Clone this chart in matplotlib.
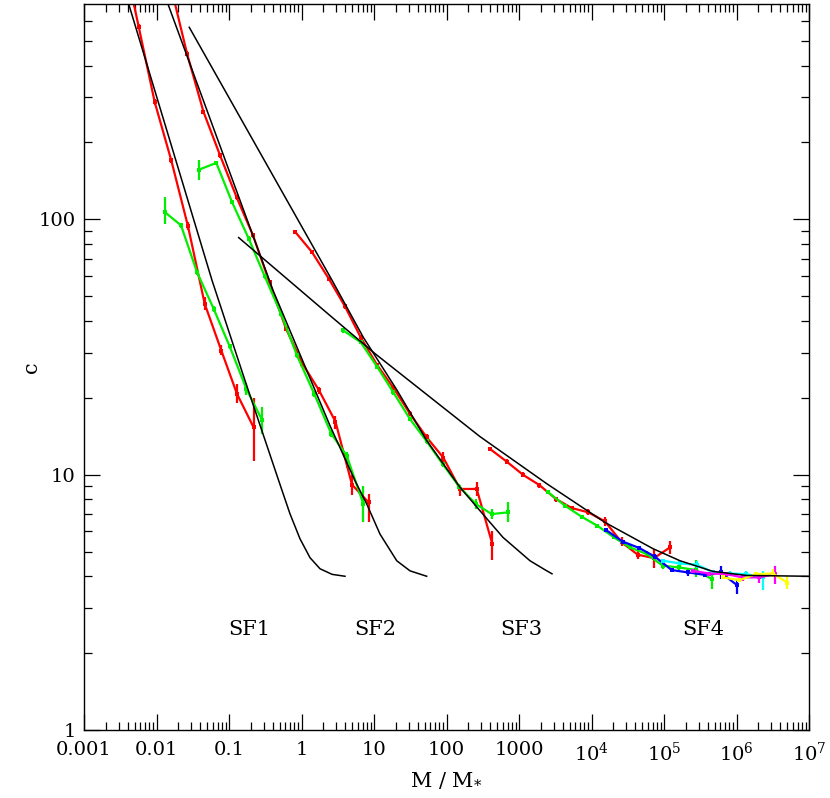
import matplotlib
matplotlib.use("Agg")
import matplotlib.pyplot as plt
from matplotlib.ticker import FixedLocator, FixedFormatter, LogLocator, NullFormatter
import numpy as np

plt.rcParams['font.family'] = ['DejaVu Serif']
plt.rcParams['mathtext.fontset'] = 'dejavuserif'

# ---------------- model curves (black) ----------------
sf1_M = [0.00355, 0.0583, 0.166, 0.485, 0.693, 0.953, 1.31, 1.80, 2.64, 3.98]
sf1_c = [805, 57.7, 23.4, 9.47, 7.03, 5.61, 4.73, 4.28, 4.07, 4.0]

sf2_M = [0.0120, 0.405, 2.47, 5.47, 7.93, 12.1, 20.6, 31.4, 53.3]
sf2_c = [802, 52.7, 15.56, 9.47, 7.68, 5.85, 4.60, 4.20, 4.0]

sf3_M = [0.0283, 2.64, 7.12, 20.6, 53.3, 153.5, 290, 601, 1419, 2286, 2851]
sf3_c = [565, 57.7, 34.5, 21.5, 13.6, 8.92, 7.22, 5.68, 4.60, 4.24, 4.09]

sf4_M = [0.136, 2.47, 10.3, 290, 2410, 15350, 70500, 166300, 474000, 1.38e6, 1e7]
sf4_c = [84.8, 42.0, 29.8, 14.09, 9.22, 6.50, 5.13, 4.60, 4.18, 4.03, 4.0]

# ---------------- simulation data ----------------
red1_M = [0.00337, 0.00568, 0.00944, 0.0160, 0.0272, 0.0462, 0.0784, 0.129, 0.219]
red1_c = [1130, 568, 288, 170, 93.9, 46.7, 30.6, 20.7, 15.3]
red1_lo = [1100, 555, 281, 166, 90.6, 44.0, 29.3, 19.0, 11.35]
red1_hi = [1160, 581, 295, 174, 97.6, 49.6, 32.1, 22.7, 20.0]

green1_M = [0.01297, 0.02179, 0.0362, 0.0615, 0.1022, 0.1733, 0.2877]
green1_c = [106.8, 94.7, 62.1, 44.6, 31.8, 21.7, 16.3]
green1_lo = [95.5, 92.5, 60.6, 43.5, 31.0, 20.5, 14.4]
green1_hi = [122.3, 96.9, 63.6, 45.7, 32.6, 22.9, 18.4]

red2_M = [0.0156, 0.02635, 0.04446, 0.0752, 0.1269, 0.2143, 0.362, 0.611, 1.032, 1.742, 2.94, 4.97, 8.40]
red2_c = [827, 446, 263.6, 178.2, 122.3, 86.5, 56.6, 37.3, 27.2, 21.4, 16.14, 9.14, 7.79]
red2_lo = [810, 436, 258, 174, 119.5, 84.5, 55.3, 36.4, 26.5, 20.7, 15.15, 8.35, 6.50]
red2_hi = [845, 456, 269, 182, 125, 88.5, 57.9, 38.2, 27.9, 22.1, 17.03, 10.0, 8.40]

green2_M = [0.0389, 0.0668, 0.110, 0.187, 0.311, 0.521, 0.867, 1.502, 2.58, 4.20, 7.12]
green2_c = [156.7, 166.3, 116.9, 84.0, 59.8, 42.7, 29.3, 20.7, 14.44, 11.87, 7.68]
green2_lo = [142.2, 163, 114.5, 82.3, 58.6, 41.8, 28.7, 20.1, 14.0, 10.65, 6.50]
green2_hi = [170.4, 169.6, 119.3, 85.7, 61.0, 43.6, 29.9, 21.3, 14.9, 12.3, 9.05]

red3_M = [0.821, 1.396, 2.373, 3.98, 6.56, 11.1, 18.5, 31.4, 53.3, 90.4, 153.5, 261, 428.6]
red3_c = [89.2, 74.4, 58.6, 45.6, 34.5, 26.8, 21.9, 17.3, 14.0, 11.66, 8.79, 8.79, 5.35]
red3_lo = [87.5, 73.0, 57.5, 44.7, 33.8, 26.2, 21.4, 16.9, 13.6, 10.95, 8.27, 8.27, 4.64]
red3_hi = [90.9, 75.8, 59.7, 46.5, 35.2, 27.4, 22.4, 17.7, 14.4, 12.3, 9.05, 9.33, 6.03]

green3_M = [3.77, 6.56, 11.1, 18.5, 31.4, 53.3, 88.6, 150.2, 252.7, 420, 712]
green3_c = [36.7, 33.0, 26.4, 21.0, 16.5, 13.5, 11.0, 8.97, 7.68, 7.01, 7.12]
green3_lo = [36.0, 32.4, 25.9, 20.6, 16.2, 13.2, 10.75, 8.75, 7.36, 6.72, 6.50]
green3_hi = [37.4, 33.6, 26.9, 21.4, 16.8, 13.8, 11.25, 9.2, 8.05, 7.36, 7.79]

red4_M = [398, 676, 1146, 1905, 3236, 5333, 9036, 15350, 26100, 43360, 72800, 121000]
red4_c = [12.61, 11.25, 9.97, 9.11, 8.03, 7.40, 7.12, 6.56, 5.43, 4.86, 4.71, 5.19]
red4_lo = [12.35, 11.0, 9.75, 8.9, 7.85, 7.25, 6.93, 6.31, 5.27, 4.67, 4.31, 4.91]
red4_hi = [12.85, 11.5, 10.2, 9.3, 8.2, 7.55, 7.36, 6.84, 5.68, 5.11, 5.11, 5.51]

green4_M = [2535, 4310, 7328, 12030, 20420, 33960, 57700, 95940, 162600, 276300, 454900]
green4_c = [8.52, 7.56, 6.84, 6.31, 5.68, 5.19, 4.89, 4.40, 4.33, 4.23, 3.90]
green4_lo = [8.4, 7.45, 6.74, 6.2, 5.58, 5.1, 4.75, 4.27, 4.20, 3.96, 3.56]
green4_hi = [8.64, 7.67, 6.94, 6.42, 5.78, 5.28, 5.03, 4.53, 4.48, 4.64, 4.14]

blue4_M = [15850, 26920, 45620, 75160, 127700, 216300, 367700, 605400, 1.007e6]
blue4_c = [6.07, 5.47, 5.16, 4.77, 4.23, 4.14, 4.05, 4.14, 3.70]
blue4_lo = [5.98, 5.38, 5.06, 4.65, 4.15, 4.02, 3.96, 3.90, 3.41]
blue4_hi = [6.16, 5.56, 5.26, 4.89, 4.31, 4.27, 4.14, 4.40, 3.90]

cyan4_M = [97770, 166300, 282600, 478600, 812800, 1.352e6, 2.297e6]
cyan4_c = [4.60, 4.49, 4.44, 4.14, 4.10, 4.08, 3.96]
cyan4_lo = [4.53, 4.42, 4.28, 4.06, 4.02, 3.96, 3.53]
cyan4_hi = [4.67, 4.56, 4.60, 4.22, 4.20, 4.20, 4.20]

magenta4_M = [248900, 421700, 716100, 1.219e6, 2.065e6, 3.398e6]
magenta4_c = [4.20, 4.10, 4.08, 3.96, 3.96, 4.08]
magenta4_lo = [4.13, 4.03, 4.01, 3.83, 3.78, 3.73]
magenta4_hi = [4.27, 4.17, 4.15, 4.08, 4.08, 4.40]

yellow4_M = [645600, 1.094e6, 1.858e6, 3.155e6, 5.02e6]
yellow4_c = [3.96, 3.86, 4.08, 4.10, 3.78]
yellow4_lo = [3.90, 3.80, 3.96, 3.96, 3.56]
yellow4_hi = [4.02, 3.92, 4.14, 4.27, 4.02]

x_ticks = [1e-3, 1e-2, 1e-1, 1, 10, 100, 1000, 1e4, 1e5, 1e6, 1e7]
x_labels = ['0.001', '0.01', '0.1', '1', '10', '100', '1000',
            r'$10^4$', r'$10^5$', r'$10^6$', r'$10^7$']
y_ticks = [1, 10, 100]
y_labels = ['1', '10', '100']

sf_names = ['SF1', 'SF2', 'SF3', 'SF4']
sf_label_M = [0.189, 10.3, 1066, 3.45e5]
sf_label_c = 2.47

# ---------------- figure ----------------
fig = plt.figure(figsize=(8.30, 7.98), dpi=100)
ax = fig.add_axes([84/830, 1 - 730/798, 725/830, 726/798])
ax.set_xscale('log')
ax.set_yscale('log')

series = [
    (red1_M, red1_c, red1_lo, red1_hi, '#ff0000'),
    (green1_M, green1_c, green1_lo, green1_hi, '#00ee00'),
    (red2_M, red2_c, red2_lo, red2_hi, '#ff0000'),
    (green2_M, green2_c, green2_lo, green2_hi, '#00ee00'),
    (red3_M, red3_c, red3_lo, red3_hi, '#ff0000'),
    (green3_M, green3_c, green3_lo, green3_hi, '#00ee00'),
    (red4_M, red4_c, red4_lo, red4_hi, '#ff0000'),
    (green4_M, green4_c, green4_lo, green4_hi, '#00ee00'),
    (blue4_M, blue4_c, blue4_lo, blue4_hi, '#0000ff'),
    (cyan4_M, cyan4_c, cyan4_lo, cyan4_hi, '#00ffff'),
    (magenta4_M, magenta4_c, magenta4_lo, magenta4_hi, '#ff00ff'),
    (yellow4_M, yellow4_c, yellow4_lo, yellow4_hi, '#ffff00'),
]
for M, c, lo, hi, col in series:
    c = np.array(c); lo = np.array(lo); hi = np.array(hi)
    ax.errorbar(M, c, yerr=[c - lo, hi - c], color=col, lw=1.6,
                elinewidth=1.6, capsize=1.6, capthick=1.4,
                marker='s', ms=2.4, mew=0, zorder=2)

for M, c in [(sf1_M, sf1_c), (sf2_M, sf2_c), (sf3_M, sf3_c), (sf4_M, sf4_c)]:
    ax.plot(M, c, color='black', lw=1.1, zorder=3)

for name, xm in zip(sf_names, sf_label_M):
    ax.text(xm, sf_label_c, name, ha='center', va='center', fontsize=15)

ax.set_xlim(1e-3, 1e7)
ax.set_ylim(1, 697)

ax.xaxis.set_major_locator(FixedLocator(x_ticks))
ax.xaxis.set_major_formatter(FixedFormatter(x_labels))
ax.xaxis.set_minor_locator(LogLocator(base=10, subs=np.arange(2, 10), numticks=100))
ax.xaxis.set_minor_formatter(NullFormatter())
ax.yaxis.set_major_locator(FixedLocator(y_ticks))
ax.yaxis.set_major_formatter(FixedFormatter(y_labels))
ax.yaxis.set_minor_locator(LogLocator(base=10, subs=np.arange(2, 10), numticks=100))
ax.yaxis.set_minor_formatter(NullFormatter())

ax.tick_params(which='both', direction='in', top=True, right=True, width=0.9)
ax.tick_params(which='major', length=11.5, labelsize=14)
ax.tick_params(which='minor', length=5.8)
ax.tick_params(axis='x', which='major', pad=8)
ax.tick_params(axis='y', which='major', pad=6)
for s in ax.spines.values():
    s.set_linewidth(1.0)

ax.set_xlabel(r'M / M$_{*}$', fontsize=15, labelpad=4)
ax.set_ylabel('c', fontsize=15)
ax.yaxis.set_label_coords(-0.06, 0.5)

fig.savefig('out.png', dpi=100)
